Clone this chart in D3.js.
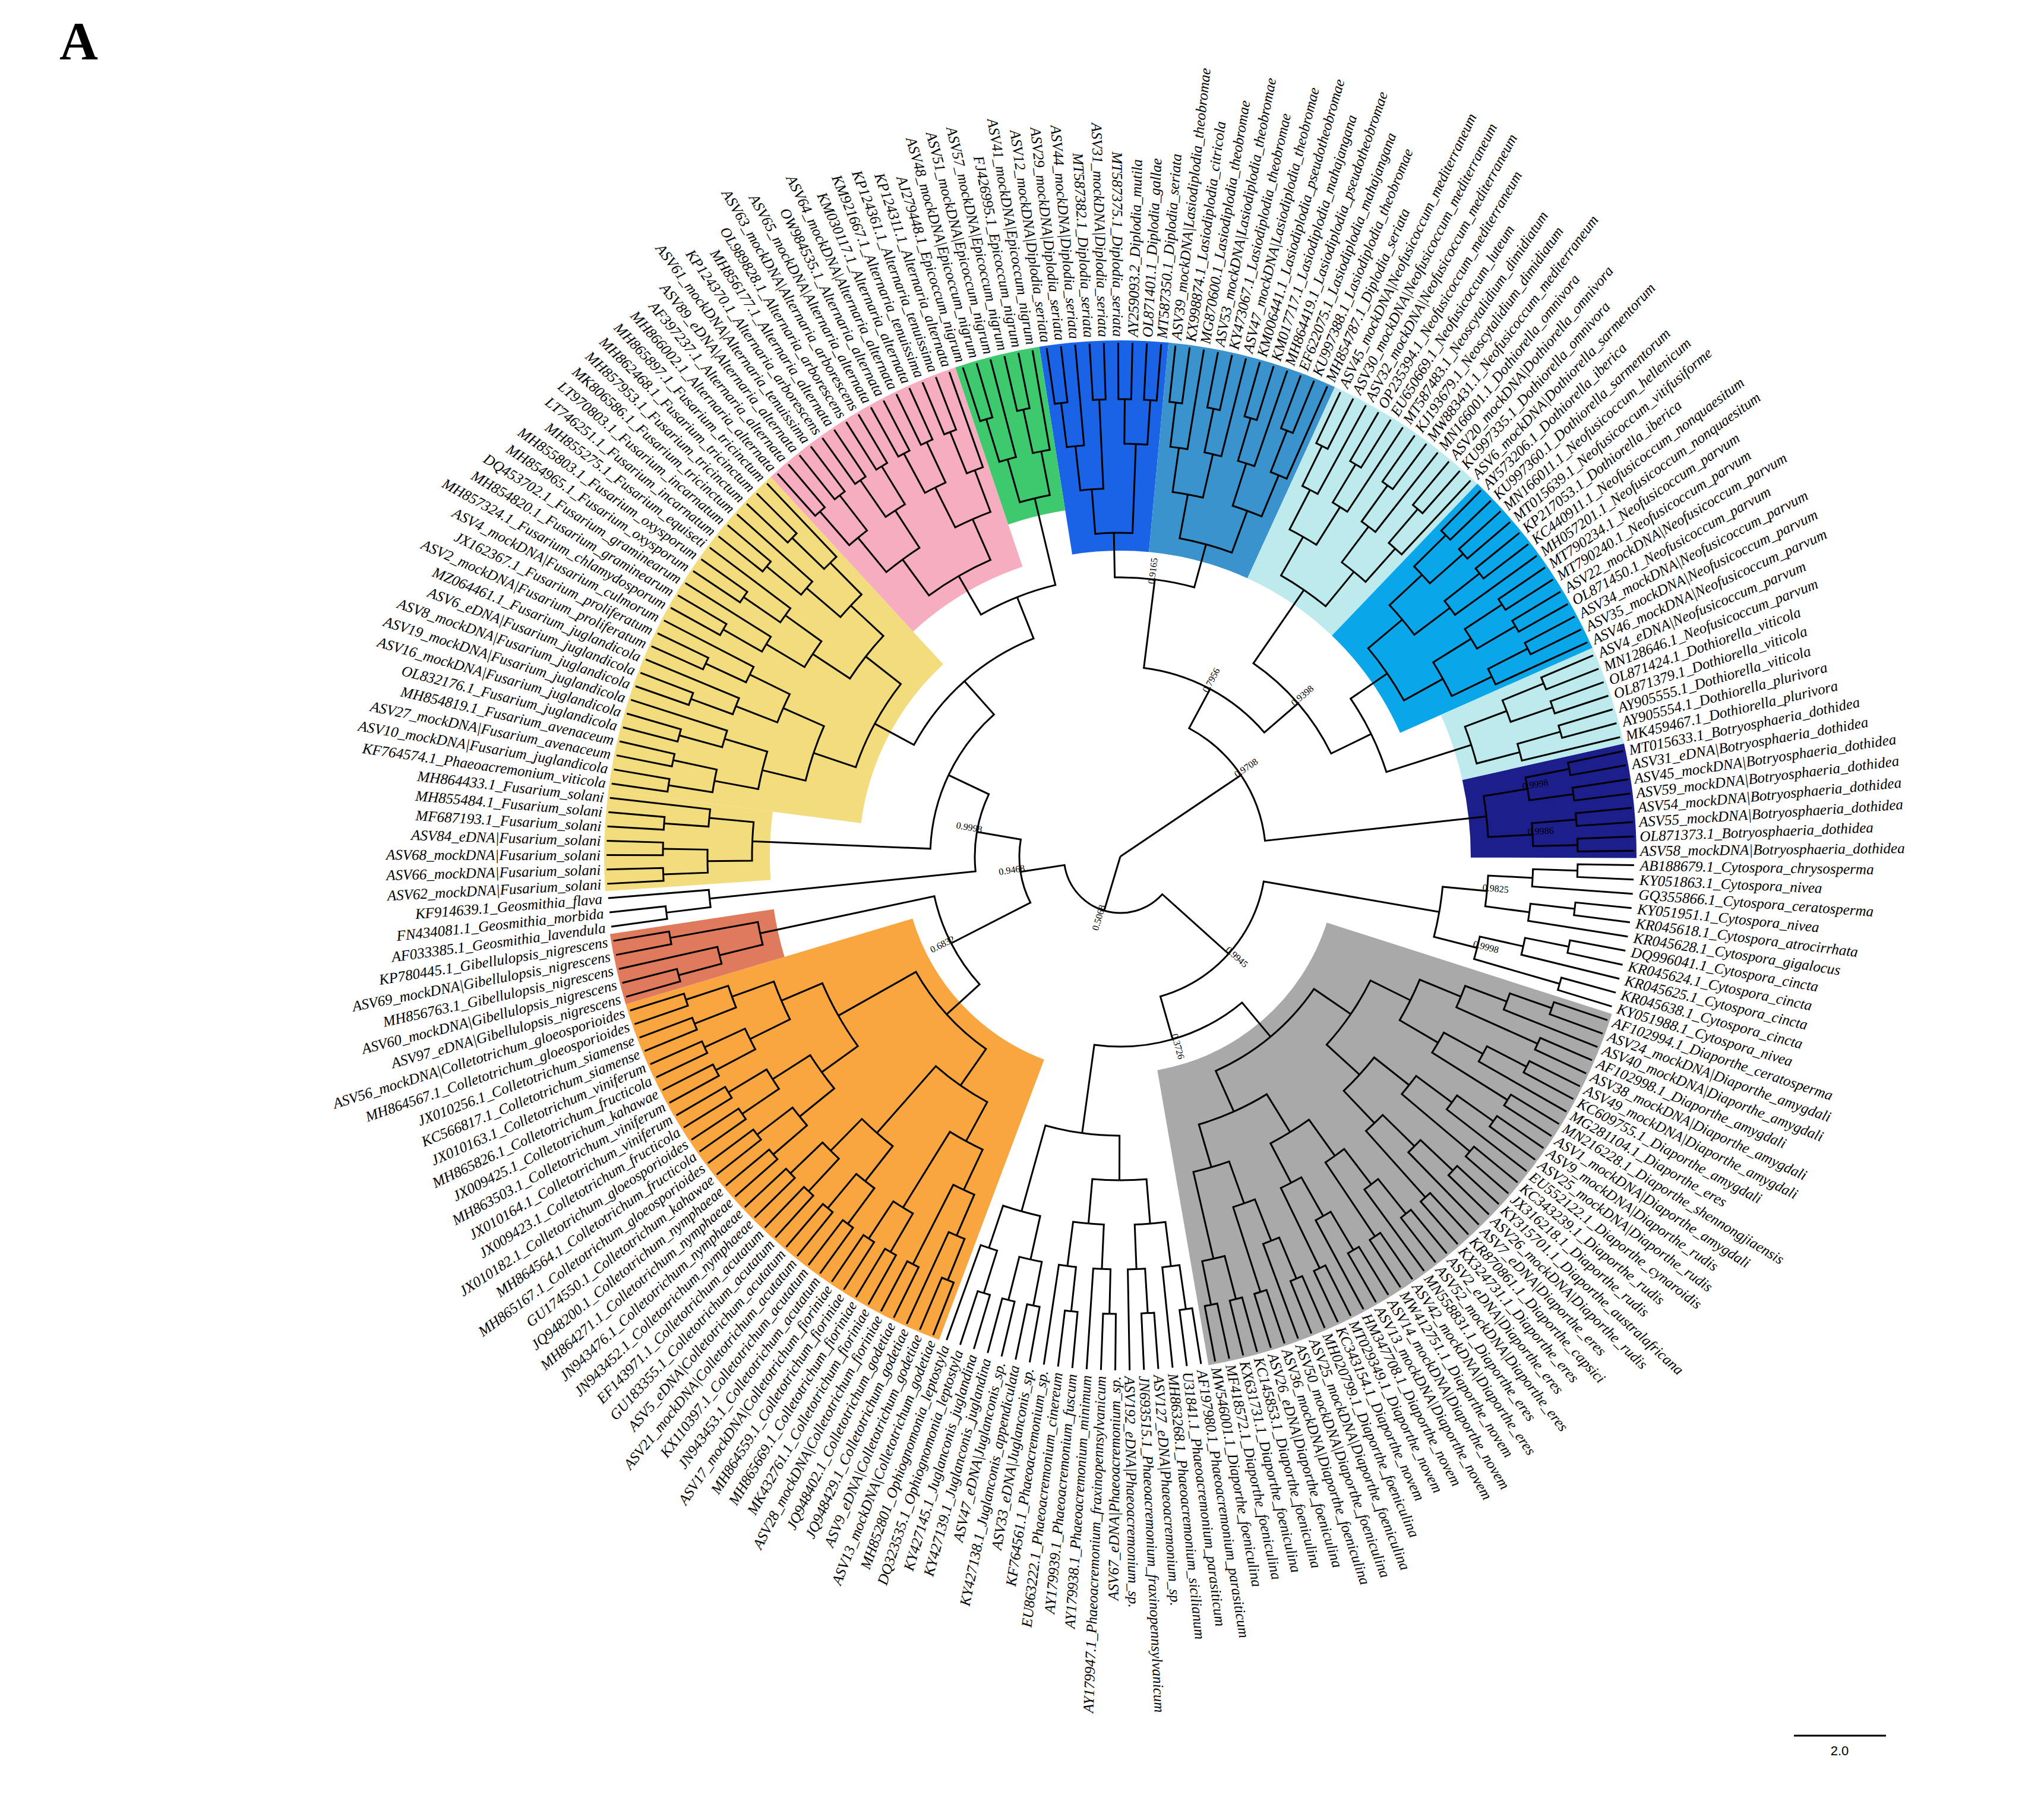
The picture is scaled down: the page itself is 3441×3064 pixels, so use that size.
<!DOCTYPE html>
<html><head><meta charset="utf-8">
<script src="https://cdn.jsdelivr.net/npm/d3@7"></script>
<style>body{margin:0;background:#fff}</style></head>
<body><svg id="c" width="3441" height="3064"></svg>
<script>
const cytospora=["AB188679.1_Cytospora_chrysosperma","KY051863.1_Cytospora_nivea","GQ355866.1_Cytospora_ceratosperma","KY051951.1_Cytospora_nivea","KR045618.1_Cytospora_atrocirrhata","KR045628.1_Cytospora_gigalocus","DQ996041.1_Cytospora_cincta","KR045624.1_Cytospora_cincta","KR045625.1_Cytospora_cincta","KR045638.1_Cytospora_cincta","KY051988.1_Cytospora_nivea"];
const diaporthe=["AF102994.1_Diaporthe_ceratosperma","ASV24_mockDNA|Diaporthe_amygdali","ASV40_mockDNA|Diaporthe_amygdali","AF102998.1_Diaporthe_amygdali","ASV38_mockDNA|Diaporthe_amygdali","ASV49_mockDNA|Diaporthe_amygdali","KC609755.1_Diaporthe_amygdali","MG281104.1_Diaporthe_eres","MN216228.1_Diaporthe_shennongjiaensis","ASV1_mockDNA|Diaporthe_amygdali","ASV9_mockDNA|Diaporthe_rudis","ASV25_mockDNA|Diaporthe_rudis","EU552122.1_Diaporthe_cynaroidis","KC343239.1_Diaporthe_rudis","JX316218.1_Diaporthe_rudis","KY315701.1_Diaporthe_australafricana","ASV26_mockDNA|Diaporthe_rudis","ASV7_eDNA|Diaporthe_eres","KR870861.1_Diaporthe_capsici","KX324731.1_Diaporthe_eres","ASV2_eDNA|Diaporthe_eres","ASV52_mockDNA|Diaporthe_eres","MN558831.1_Diaporthe_eres","ASV42_mockDNA|Diaporthe_eres","MW412751.1_Diaporthe_novem","ASV14_mockDNA|Diaporthe_novem","ASV13_mockDNA|Diaporthe_novem","HM347708.1_Diaporthe_novem","MT029349.1_Diaporthe_novem","KC343154.1_Diaporthe_novem","MH020799.1_Diaporthe_foeniculina","ASV25_mockDNA|Diaporthe_foeniculina","ASV50_mockDNA|Diaporthe_foeniculina","ASV36_mockDNA|Diaporthe_foeniculina","ASV26_eDNA|Diaporthe_foeniculina","KC145853.1_Diaporthe_foeniculina","KX631731.1_Diaporthe_foeniculina","MF418572.1_Diaporthe_foeniculina","MW546001.1_Diaporthe_foeniculina"];
const phaeo=["AF197980.1_Phaeoacremonium_parasiticum","U31841.1_Phaeoacremonium_parasiticum","MH863268.1_Phaeoacremonium_sicilianum","ASV127_eDNA|Phaeoacremonium_sp.","JN693515.1_Phaeoacremonium_fraxinopennsylvanicum","ASV192_eDNA|Phaeoacremonium_sp.","ASV67_eDNA|Phaeoacremonium_sp.","AY179947.1_Phaeoacremonium_fraxinopennsylvanicum","AY179938.1_Phaeoacremonium_minimum","AY179939.1_Phaeoacremonium_fuscum","EU863222.1_Phaeoacremonium_cinereum","KF764561.1_Phaeoacremonium_sp."];
const juglanconis=["ASV33_eDNA|Juglanconis_sp.","KY427138.1_Juglanconis_appendiculata","ASV47_eDNA|Juglanconis_sp.","KY427139.1_Juglanconis_juglandina","KY427145.1_Juglanconis_juglandina","DQ323535.1_Ophiognomonia_leptostyla","MH852801_Ophiognomonia_leptostyla"];
const colleto=["ASV13_mockDNA|Colletotrichum_godetiae","ASV9_eDNA|Colletotrichum_godetiae","JQ948429.1_Colletotrichum_godetiae","JQ948402.1_Colletotrichum_godetiae","ASV28_mockDNA|Colletotrichum_fioriniae","MK432761.1_Colletotrichum_fioriniae","MH865669.1_Colletotrichum_fioriniae","MH864559.1_Colletotrichum_fioriniae","ASV17_mockDNA|Colletotrichum_fioriniae","JN943453.1_Colletotrichum_acutatum","KX110397.1_Colletotrichum_acutatum","ASV21_mockDNA|Colletotrichum_acutatum","ASV5_eDNA|Colletotrichum_acutatum","GU183355.1_Colletotrichum_acutatum","EF143971.1_Colletotrichum_acutatum","JN943452.1_Colletotrichum_nymphaeae","JN943476.1_Colletotrichum_nymphaeae","MH864271.1_Colletotrichum_nymphaeae","JQ948200.1_Colletotrichum_nymphaeae","GU174550.1_Colletotrichum_kahawae","MH865167.1_Colletotrichum_gloeosporioides","MH864564.1_Colletotrichum_fructicola","JX010182.1_Colletotrichum_gloeosporioides","JX009423.1_Colletotrichum_fructicola","JX010164.1_Colletotrichum_viniferum","MH863503.1_Colletotrichum_viniferum","JX009425.1_Colletotrichum_kahawae","MH865826.1_Colletotrichum_fructicola","JX010163.1_Colletotrichum_viniferum","KC566817.1_Colletotrichum_siamense","JX010256.1_Colletotrichum_siamense","MH864567.1_Colletotrichum_gloeosporioides","ASV56_mockDNA|Colletotrichum_gloeosporioides"];
const gibellu=["ASV97_eDNA|Gibellulopsis_nigrescens","ASV60_mockDNA|Gibellulopsis_nigrescens","MH856763.1_Gibellulopsis_nigrescens","ASV69_mockDNA|Gibellulopsis_nigrescens","KP780445.1_Gibellulopsis_nigrescens"];
const geosmithia=["AF033385.1_Geosmithia_lavendula","FN434081.1_Geosmithia_morbida","KF914639.1_Geosmithia_flava"];
const fusSolani=["ASV62_mockDNA|Fusarium_solani","ASV66_mockDNA|Fusarium_solani","ASV68_mockDNA|Fusarium_solani","ASV84_eDNA|Fusarium_solani","MF687193.1_Fusarium_solani","MH855484.1_Fusarium_solani","MH864433.1_Fusarium_solani"];
const fusarium=["KF764574.1_Phaeoacremonium_viticola","ASV10_mockDNA|Fusarium_juglandicola","ASV27_mockDNA|Fusarium_avenaceum","MH854819.1_Fusarium_avenaceum","OL832176.1_Fusarium_juglandicola","ASV16_mockDNA|Fusarium_juglandicola","ASV19_mockDNA|Fusarium_juglandicola","ASV8_mockDNA|Fusarium_juglandicola","ASV6_eDNA|Fusarium_juglandicola","MZ064461.1_Fusarium_juglandicola","ASV2_mockDNA|Fusarium_proliferatum","JX162367.1_Fusarium_proliferatum","ASV4_mockDNA|Fusarium_culmorum","MH857324.1_Fusarium_chlamydosporum","MH854820.1_Fusarium_graminearum","DQ453702.1_Fusarium_graminearum","MH854965.1_Fusarium_oxysporum","MH855803.1_Fusarium_oxysporum","MH855275.1_Fusarium_equiseti","LT746251.1_Fusarium_incarnatum","LT970803.1_Fusarium_incarnatum","MK806586.1_Fusarium_tricinctum","MH857953.1_Fusarium_tricinctum","MH862468.1_Fusarium_tricinctum","MH865897.1_Fusarium_tricinctum"];
const alternaria=["MH866002.1_Alternaria_alternata","AF397237.1_Alternaria_alternata","ASV89_eDNA|Alternaria_alternata","ASV61_mockDNA|Alternaria_tenuissima","KP124370.1_Alternaria_arborescens","MH856177.1_Alternaria_alternata","OL989828.1_Alternaria_arborescens","ASV63_mockDNA|Alternaria_arborescens","ASV65_mockDNA|Alternaria_alternata","OW984535.1_Alternaria_alternata","ASV64_mockDNA|Alternaria_alternata","KM030117.1_Alternaria_alternata","KM921667.1_Alternaria_tenuissima","KP124361.1_Alternaria_tenuissima","KP124311.1_Alternaria_alternata"];
const epicoccum=["AJ279448.1_Epicoccum_nigrum","ASV48_mockDNA|Epicoccum_nigrum","ASV51_mockDNA|Epicoccum_nigrum","ASV57_mockDNA|Epicoccum_nigrum","FJ426995.1_Epicoccum_nigrum","ASV41_mockDNA|Epicoccum_nigrum"];
const diplodia=["ASV12_mockDNA|Diplodia_seriata","ASV29_mockDNA|Diplodia_seriata","ASV44_mockDNA|Diplodia_seriata","MT587382.1_Diplodia_seriata","ASV31_mockDNA|Diplodia_seriata","MT587375.1_Diplodia_seriata","AY259093.2_Diplodia_mutila","OL871401.1_Diplodia_gallae","MT587350.1_Diplodia_seriata"];
const lasio=["ASV39_mockDNA|Lasiodiplodia_theobromae","KX998874.1_Lasiodiplodia_citricola","MG870600.1_Lasiodiplodia_theobromae","ASV53_mockDNA|Lasiodiplodia_theobromae","KY473067.1_Lasiodiplodia_theobromae","ASV47_mockDNA|Lasiodiplodia_theobromae","KM006441.1_Lasiodiplodia_pseudotheobromae","KM017717.1_Lasiodiplodia_mahajangana","MH864419.1_Lasiodiplodia_pseudotheobromae","EF622075.1_Lasiodiplodia_mahajangana","KU997388.1_Lasiodiplodia_theobromae","MH854787.1_Diplodia_seriata"];
const neoMed=["ASV45_mockDNA|Neofusicoccum_mediterraneum","ASV30_mockDNA|Neofusicoccum_mediterraneum","ASV32_mockDNA|Neofusicoccum_mediterraneum","OP235394.1_Neofusicoccum_mediterraneum","EU650669.1_Neofusicoccum_luteum","MT587483.1_Neoscytalidium_dimidiatum","KJ193679.1_Neoscytalidium_dimidiatum","MW883431.1_Neofusicoccum_mediterraneum","MN166001.1_Dothiorella_omnivora","ASV20_mockDNA|Dothiorella_omnivora","KU997335.1_Dothiorella_omnivora","ASV6_mockDNA|Dothiorella_sarmentorum"];
const neoParvum=["AY573206.1_Dothiorella_iberica","KU997360.1_Dothiorella_sarmentorum","MN166011.1_Neofusicoccum_hellenicum","MT015639.1_Neofusicoccum_vitifusiforme","KP217053.1_Dothiorella_iberica","KC440911.1_Neofusicoccum_nonquaesitum","MH057201.1_Neofusicoccum_nonquaesitum","MT790234.1_Neofusicoccum_parvum","MT790240.1_Neofusicoccum_parvum","ASV22_mockDNA|Neofusicoccum_parvum","OL871450.1_Neofusicoccum_parvum","ASV34_mockDNA|Neofusicoccum_parvum","ASV35_mockDNA|Neofusicoccum_parvum","ASV46_mockDNA|Neofusicoccum_parvum"];
const dothiorella=["ASV4_eDNA|Neofusicoccum_parvum","MN128646.1_Neofusicoccum_parvum","OL871424.1_Dothiorella_viticola","OL871379.1_Dothiorella_viticola","AY905555.1_Dothiorella_viticola","AY905554.1_Dothiorella_plurivora","MK459467.1_Dothiorella_plurivora"];
const botryo=["MT015633.1_Botryosphaeria_dothidea","ASV31_eDNA|Botryosphaeria_dothidea","ASV45_mockDNA|Botryosphaeria_dothidea","ASV59_mockDNA|Botryosphaeria_dothidea","ASV54_mockDNA|Botryosphaeria_dothidea","ASV55_mockDNA|Botryosphaeria_dothidea","OL871373.1_Botryosphaeria_dothidea","ASV58_mockDNA|Botryosphaeria_dothidea"];

const cladeLeaves={cytospora,diaporthe,phaeo,juglanconis,colleto,gibellu,geosmithia,fusSolani,fusarium,alternaria,epicoccum,diplodia,lasio,neoMed,neoParvum,dothiorella,botryo};
const cladeColor={diaporthe:"#a9a9a9",colleto:"#f9a640",gibellu:"#e07a5c",fusSolani:"#f3dc7e",fusarium:"#f3dc7e",alternaria:"#f6adc0",epicoccum:"#3ec96f",diplodia:"#1a63e6",lasio:"#3a93cc",neoMed:"#bdeaec",neoParvum:"#0aa6ea",dothiorella:"#bdeaec",botryo:"#1c1e8c"};
const topology=[[["cytospora",["diaporthe",["phaeo","juglanconis"]]],[["colleto","gibellu"],["geosmithia",["fusSolani",["fusarium",["alternaria","epicoccum"]]]]]],[[["diplodia","lasio"],["neoMed",["neoParvum","dothiorella"]]],"botryo"]];
const backboneSupport=["0.5068","0.9708","0.9945","0.9468","0.7956","0.3726","0.6832","0.9998","0.9165","0.9398","0.9998","0.9986","0.9825","0.9998"];

function balanced(arr){ if(arr.length===1) return {name:arr[0]}; const m=Math.ceil(arr.length/2); return {children:[balanced(arr.slice(0,m)),balanced(arr.slice(m))]}; }
function build(t){ if(typeof t==="string"){ const n=balanced(cladeLeaves[t]); n.clade=t; return n;} return {children:t.map(build)}; }
const root=d3.hierarchy(build(topology));
const cx=1886, cy=1442, R=865;
const leaves=root.leaves(), N=leaves.length, stepA=2*Math.PI/N, a0=Math.PI/2+stepA*0.6;
leaves.forEach((l,i)=>{l.a=a0+i*stepA;});
root.eachAfter(n=>{ if(n.children){ n.a=(n.children[0].a+n.children[n.children.length-1].a)/2; }});
const H=root.height, rs=(R-40)/H;
root.each(n=>{ n.r = n.children ? Math.max(0, R - rs*n.height - 20) : R; });
root.r=0;
const svg=d3.select("#c"), g=svg.append("g").attr("transform",`translate(${cx},${cy})`);
const pt=(a,r)=>[r*Math.sin(a),-r*Math.cos(a)];
const arc=d3.arc();
root.descendants().filter(n=>n.data.clade&&cladeColor[n.data.clade]).forEach(n=>{
  const ls=n.leaves();
  g.append("path").attr("fill",cladeColor[n.data.clade])
   .attr("d",arc({innerRadius:Math.max(n.r-30,60),outerRadius:R+4,startAngle:ls[0].a-stepA/2,endAngle:ls[ls.length-1].a+stepA/2}));
});
root.links().forEach(({source:s,target:t})=>{
  const [x0,y0]=pt(s.a,s.r), [x1,y1]=pt(t.a,s.r), [x2,y2]=pt(t.a,t.r);
  const sweep=t.a>s.a?1:0;
  g.append("path").attr("fill","none").attr("stroke","#000").attr("stroke-width",3)
   .attr("d",`M${x0},${y0}A${s.r},${s.r} 0 0 ${sweep} ${x1},${y1}L${x2},${y2}`);
});
root.descendants().filter(n=>n.children && !n.data.clade && n.depth>0).forEach((n,i)=>{
  if(i>=backboneSupport.length) return;
  const [x,y]=pt(n.a,n.r+14);
  g.append("text").attr("transform",`translate(${x},${y}) rotate(${n.a*180/Math.PI-90 + ((n.a%(2*Math.PI))>Math.PI?180:0)})`)
   .attr("font-family","Liberation Serif").attr("font-size",16).attr("text-anchor","middle").text(backboneSupport[i]);
});
leaves.forEach(l=>{
  const deg=l.a*180/Math.PI-90, aa=((l.a%(2*Math.PI))+2*Math.PI)%(2*Math.PI), flip=aa>Math.PI;
  g.append("text").attr("transform",`rotate(${deg}) translate(${R+10},0) ${flip?"rotate(180)":""}`)
   .attr("dy","0.35em").attr("text-anchor",flip?"end":"start")
   .attr("font-family","Liberation Serif").attr("font-style","italic").attr("font-size",25).text(l.data.name);
});
svg.append("text").attr("x",100).attr("y",100).attr("font-family","Liberation Serif").attr("font-weight","bold").attr("font-size",90).text("A");
svg.append("line").attr("x1",3020).attr("x2",3175).attr("y1",2922).attr("y2",2922).attr("stroke","#000").attr("stroke-width",3);
svg.append("text").attr("x",3097).attr("y",2955).attr("text-anchor","middle").attr("font-family","Liberation Sans").attr("font-size",22).text("2.0");
</script></body></html>
